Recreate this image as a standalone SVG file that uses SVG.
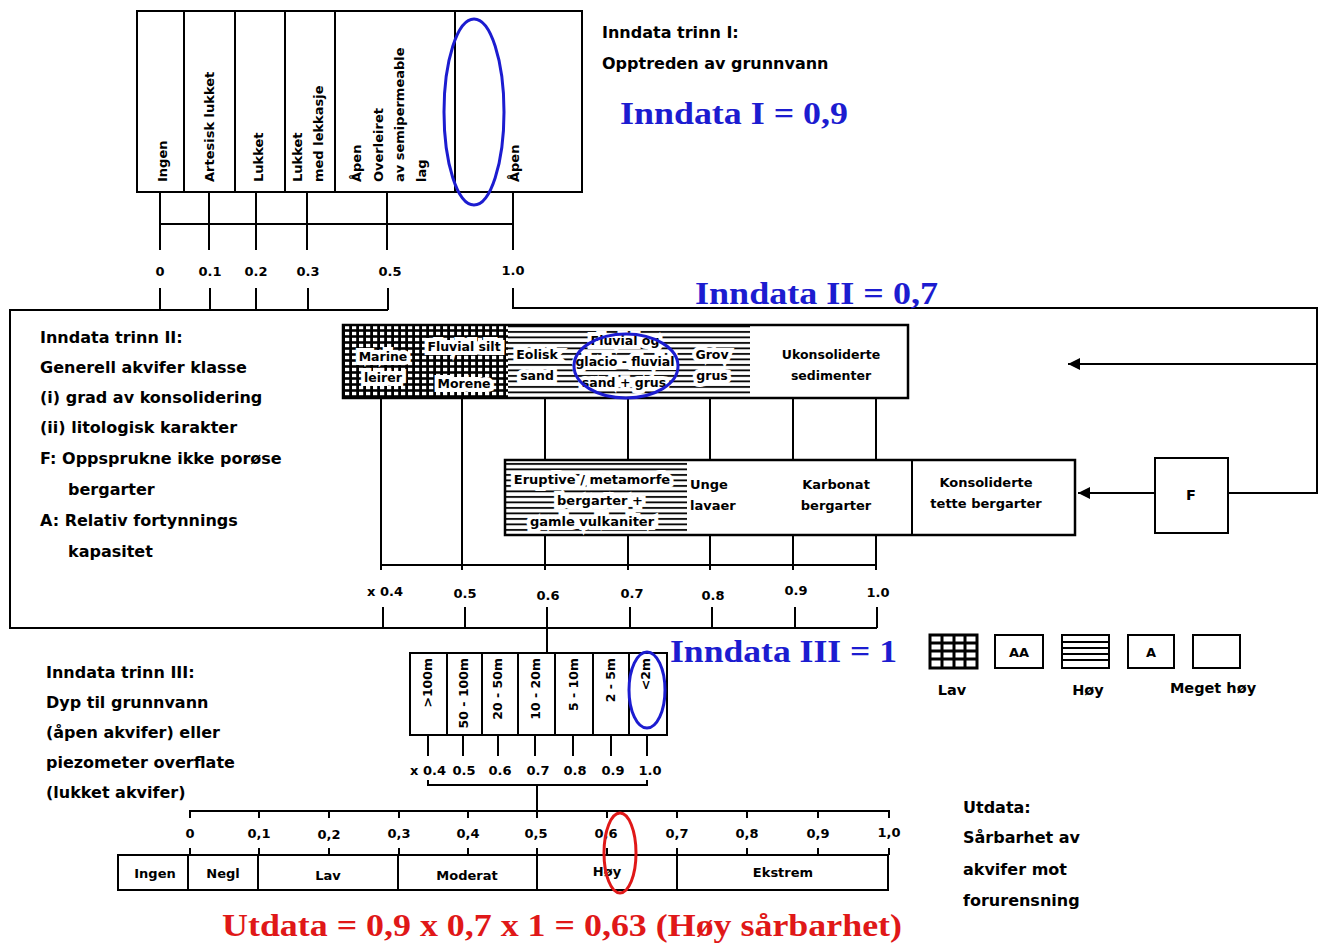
<svg xmlns="http://www.w3.org/2000/svg" width="1328" height="945" viewBox="0 0 1328 945">
<defs>
<style>
.t{font-family:"DejaVu Sans","Liberation Sans",sans-serif;font-weight:bold;fill:#000}
.f16{font-size:16px}
.f14{font-size:14.5px}
.f13{font-size:13px}
.f12{font-size:12.5px}
.big{font-family:"Liberation Serif","Times New Roman",serif;font-weight:bold;font-size:32px}
.blue{fill:#1c1cd0}
.red{fill:#e01818}
.ln{stroke:#000;stroke-width:2;fill:none}
.bx{stroke:#000;stroke-width:2;fill:#fff}
.ell{fill:none;stroke-width:3}
.c{text-anchor:middle}
.e{text-anchor:end}
.halo{paint-order:stroke;stroke:#fff;stroke-width:8px;stroke-linejoin:miter}
</style>
<pattern id="grid" patternUnits="userSpaceOnUse" width="7" height="6"><rect width="7" height="6" fill="#000"/><rect x="2" y="1.8" width="4.2" height="3.4" fill="#fff"/></pattern>
<pattern id="hl" patternUnits="userSpaceOnUse" width="8" height="5.5"><rect width="8" height="5.5" fill="#fff"/><rect y="1" width="8" height="1.8" fill="#000"/></pattern>
<marker id="ah" viewBox="0 0 10 10" refX="10" refY="5" markerWidth="6" markerHeight="6" orient="auto-start-reverse"><path d="M0,0 L10,5 L0,10 z" fill="#000"/></marker>
</defs>
<rect width="1328" height="945" fill="#fff"/>

<g id="connectors">
<path class="ln" d="M160,192V250M209,192V250M256,192V250M307,192V250M387,192V250M513,192V250M160,224H513"/>
<path class="ln" d="M160,288V310M210,288V310M256,288V310M308,288V310M388,288V310M388,310H10V628H877"/>
<path class="ln" d="M513,288V308H1317V493H1228"/>
<path class="ln" d="M1317,364H1068" marker-end="url(#ah)"/>
<path class="ln" d="M1155,493H1078" marker-end="url(#ah)"/>
<path class="ln" d="M381,398V570M462,398V570M545,398V460M628,398V460M710,398V460M793,398V460M876,398V460"/>
<path class="ln" d="M545,535V570M628,535V570M710,535V570M793,535V570M876,535V570M381,565H877"/>
<path class="ln" d="M383,607V628M465,607V628M547,607V628M630,607V628M712,607V628M795,607V628M877,607V628"/>
<path class="ln" d="M547,628V653"/>
<path class="ln" d="M428,735V756M463,735V756M498,735V756M535,735V756M573,735V756M611,735V756M647,735V756"/>
<path class="ln" d="M428,780V785H647V780M537,785V811"/>
<path class="ln" d="M190,818V811H889V818M259,811V818M329,811V818M399,811V818M468,811V818M537,811V818M607,811V818M677,811V818M747,811V818M818,811V818"/>
<path class="ln" d="M190,848V855M259,848V855M329,848V855M399,848V855M468,848V855M537,848V855M607,848V855M677,848V855M747,848V855M818,848V855M889,848V855"/>
</g>

<g id="stage1">
<rect class="bx" x="137" y="11" width="445" height="181"/>
<path class="ln" d="M184,11V192M235,11V192M285,11V192M335,11V192M455,11V192"/>
<text class="t f13" transform="translate(167,182) rotate(-90)">Ingen</text>
<text class="t f13" transform="translate(214,182) rotate(-90)">Artesisk lukket</text>
<text class="t f13" transform="translate(263,182) rotate(-90)">Lukket</text>
<text class="t f13" transform="translate(302,182) rotate(-90)">Lukket</text>
<text class="t f13" transform="translate(323,182) rotate(-90)">med lekkasje</text>
<text class="t f13" transform="translate(361,182) rotate(-90)">Åpen</text>
<text class="t f13" transform="translate(383,182) rotate(-90)">Overleiret</text>
<text class="t f13" transform="translate(404,182) rotate(-90)">av semipermeable</text>
<text class="t f13" transform="translate(426,182) rotate(-90)">lag</text>
<text class="t f13" transform="translate(519,182) rotate(-90)">Åpen</text>
<ellipse class="ell" cx="474" cy="112" rx="30" ry="93" stroke="#1c1cd0"/>
</g>

<g id="scale1" class="t f13 c">
<text x="160" y="276">0</text>
<text x="210" y="276">0.1</text>
<text x="256" y="276">0.2</text>
<text x="308" y="276">0.3</text>
<text x="390" y="276">0.5</text>
<text x="513" y="275">1.0</text>
</g>

<g id="label1">
<text class="t f16" x="602" y="38">Inndata trinn I:</text>
<text class="t f16" x="602" y="69">Opptreden av grunnvann</text>
<text class="big blue" x="620" y="124" textLength="228" lengthAdjust="spacingAndGlyphs">Inndata I = 0,9</text>
</g>

<g id="label2" class="t f16">
<text x="40" y="343">Inndata trinn II:</text>
<text x="40" y="373">Generell akvifer klasse</text>
<text x="40" y="403">(i) grad av konsolidering</text>
<text x="40" y="433">(ii) litologisk karakter</text>
<text x="40" y="464">F: Oppsprukne ikke porøse</text>
<text x="68" y="495">bergarter</text>
<text x="40" y="526">A: Relativ fortynnings</text>
<text x="68" y="557">kapasitet</text>
</g>
<text class="big blue" x="695" y="304" textLength="243" lengthAdjust="spacingAndGlyphs">Inndata II = 0,7</text>

<g id="ukonsoliderte">
<rect x="343" y="325" width="565" height="73" fill="#fff"/>
<rect x="343" y="325" width="165" height="73" fill="url(#grid)"/>
<rect x="508" y="325" width="242" height="73" fill="url(#hl)"/>
<rect x="343" y="325" width="565" height="73" fill="none" stroke="#000" stroke-width="2.5"/>
<g class="t f12 c halo">
<text x="383" y="361">Marine</text>
<text x="383" y="382">leirer</text>
<text x="464" y="351">Fluvial silt</text>
<text x="464" y="388">Morene</text>
<text x="537" y="359">Eolisk</text>
<text x="537" y="380">sand</text>
<text x="625" y="345">Fluvial og</text>
<text x="625" y="366">glacio - fluvial</text>
<text x="624" y="387">sand + grus</text>
<text x="712" y="359">Grov</text>
<text x="712" y="380">grus</text>
</g>
<g class="t f12 c">
<text x="831" y="359">Ukonsoliderte</text>
<text x="831" y="380">sedimenter</text>
</g>
<ellipse class="ell" cx="626" cy="366" rx="52" ry="32" stroke="#1c1cd0"/>
</g>

<g id="konsoliderte">
<rect x="505" y="460" width="570" height="75" fill="#fff"/>
<rect x="505" y="461" width="182" height="73" fill="url(#hl)"/>
<rect x="505" y="460" width="570" height="75" fill="none" stroke="#000" stroke-width="2.5"/>
<path class="ln" d="M912,460V535"/>
<g class="t f13 c halo">
<text x="592" y="484">Eruptive / metamorfe</text>
<text x="600" y="505">bergarter +</text>
<text x="592" y="526">gamle vulkaniter</text>
</g>
<g class="t f13">
<text x="690" y="489">Unge</text>
<text x="690" y="510">lavaer</text>
<text class="c" x="836" y="489">Karbonat</text>
<text class="c" x="836" y="510">bergarter</text>
<text class="c" x="986" y="487">Konsoliderte</text>
<text class="c" x="986" y="508">tette bergarter</text>
</g>
</g>

<g id="F">
<rect class="bx" x="1155" y="458" width="73" height="75"/>
<text class="t f14 c" x="1191" y="500">F</text>
</g>

<g id="scale2" class="t f13 c">
<text x="385" y="596">x 0.4</text>
<text x="465" y="598">0.5</text>
<text x="548" y="600">0.6</text>
<text x="632" y="598">0.7</text>
<text x="713" y="600">0.8</text>
<text x="796" y="595">0.9</text>
<text x="878" y="597">1.0</text>
</g>

<g id="label3" class="t f16">
<text x="46" y="678">Inndata trinn III:</text>
<text x="46" y="708">Dyp til grunnvann</text>
<text x="46" y="738">(åpen akvifer) eller</text>
<text x="46" y="768">piezometer overflate</text>
<text x="46" y="798">(lukket akvifer)</text>
</g>
<text class="big blue" x="670" y="662" textLength="227" lengthAdjust="spacingAndGlyphs">Inndata III = 1</text>

<g id="dyp">
<rect class="bx" x="410" y="653" width="257" height="82"/>
<path class="ln" d="M447,653V735M482,653V735M518,653V735M555,653V735M593,653V735M629,653V735"/>
<g class="t f12 e">
<text transform="translate(432,658) rotate(-90)">&gt;100m</text>
<text transform="translate(468,658) rotate(-90)">50 - 100m</text>
<text transform="translate(502,658) rotate(-90)">20 - 50m</text>
<text transform="translate(540,658) rotate(-90)">10 - 20m</text>
<text transform="translate(578,658) rotate(-90)">5 - 10m</text>
<text transform="translate(615,658) rotate(-90)">2 - 5m</text>
<text transform="translate(650,658) rotate(-90)">&lt;2m</text>
</g>
<ellipse class="ell" cx="647" cy="690" rx="18" ry="38" stroke="#1c1cd0"/>
</g>

<g id="scale3" class="t f13 c">
<text x="428" y="775">x 0.4</text>
<text x="464" y="775">0.5</text>
<text x="500" y="775">0.6</text>
<text x="538" y="775">0.7</text>
<text x="575" y="775">0.8</text>
<text x="613" y="775">0.9</text>
<text x="650" y="775">1.0</text>
</g>

<g id="legend">
<rect x="930" y="635" width="47" height="33" fill="#fff" stroke="#000" stroke-width="3"/>
<path d="M942,635V668M954,635V668M965,635V668M930,643H977M930,651H977M930,659H977" stroke="#000" stroke-width="3"/>
<rect class="bx" x="995" y="635" width="48" height="33"/>
<text class="t f13 c" x="1019" y="657">AA</text>
<rect class="bx" x="1062" y="635" width="47" height="33"/>
<path d="M1062,642H1109M1062,648H1109M1062,654H1109M1062,660H1109" stroke="#000" stroke-width="1.8"/>
<rect class="bx" x="1128" y="635" width="46" height="33"/>
<text class="t f13 c" x="1151" y="657">A</text>
<rect class="bx" x="1193" y="635" width="47" height="33"/>
<g class="t f14 c">
<text x="952" y="695">Lav</text>
<text x="1088" y="695">Høy</text>
<text x="1213" y="693">Meget høy</text>
</g>
</g>

<g id="scale4" class="t f13 c">
<text x="190" y="838">0</text>
<text x="259" y="838">0,1</text>
<text x="329" y="839">0,2</text>
<text x="399" y="838">0,3</text>
<text x="468" y="838">0,4</text>
<text x="536" y="838">0,5</text>
<text x="606" y="838">0,6</text>
<text x="677" y="838">0,7</text>
<text x="747" y="838">0,8</text>
<text x="818" y="838">0,9</text>
<text x="889" y="837">1,0</text>
</g>

<g id="utdata">
<rect class="bx" x="118" y="855" width="770" height="35"/>
<path class="ln" d="M188,855V890M258,855V890M398,855V890M537,855V890M677,855V890"/>
<g class="t f13 c">
<text x="155" y="878">Ingen</text>
<text x="223" y="878">Negl</text>
<text x="328" y="880">Lav</text>
<text x="467" y="880">Moderat</text>
<text x="607" y="876">Høy</text>
<text x="783" y="877">Ekstrem</text>
</g>
<ellipse class="ell" cx="620" cy="853" rx="16" ry="40" stroke="#e01818"/>
</g>

<g id="label4" class="t f16">
<text x="963" y="813">Utdata:</text>
<text x="963" y="843">Sårbarhet av</text>
<text x="963" y="875">akvifer mot</text>
<text x="963" y="906">forurensning</text>
</g>
<text class="big red" x="222" y="936" textLength="680" lengthAdjust="spacingAndGlyphs">Utdata = 0,9 x 0,7 x 1 = 0,63 (Høy sårbarhet)</text>
</svg>
